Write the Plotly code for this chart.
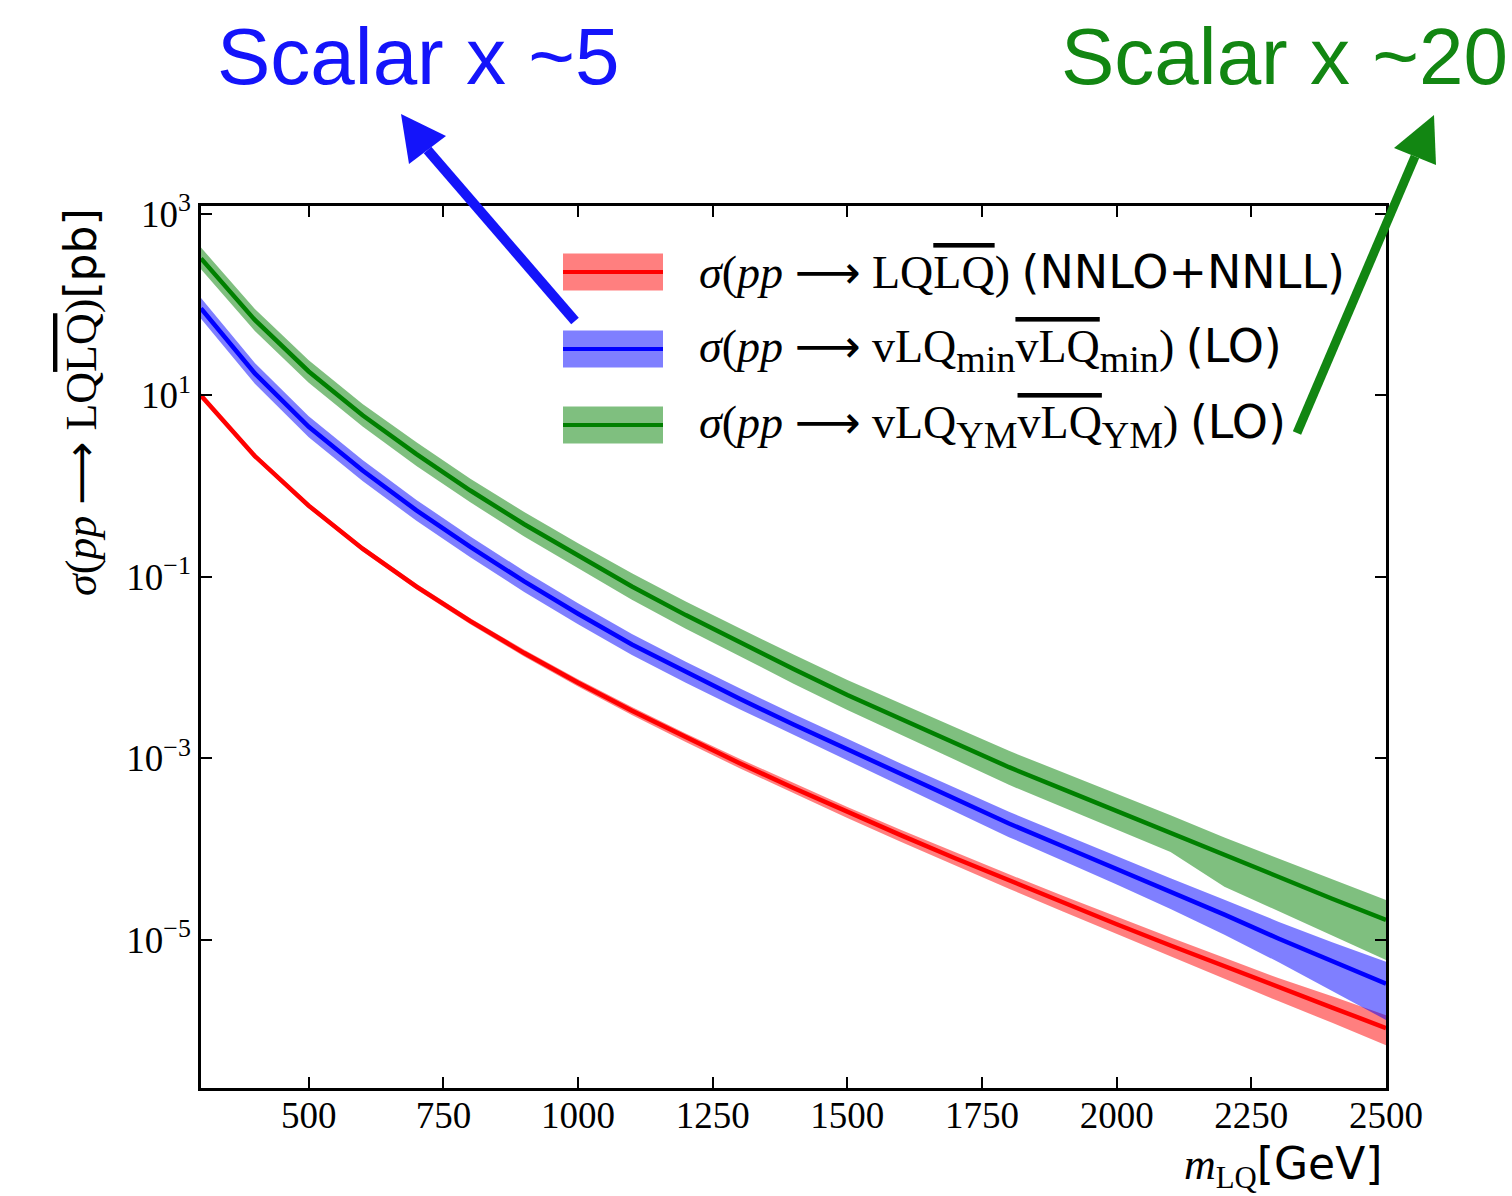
import plotly.graph_objects as go

# Leptoquark pair-production cross sections at the LHC (pb) versus LQ mass (GeV)
mass_gev = [300, 400, 500, 600, 700, 800, 900, 1000, 1100, 1200, 1300, 1400,
            1500, 1600, 1700, 1800, 1900, 2000, 2100, 2200, 2300, 2400, 2500]

# Scalar LQ, NNLO+NNLL: central value and uncertainty band
sigma_scalar = [10.0, 2.15, 0.61, 0.205, 0.0783, 0.0326, 0.0145, 0.00683, 0.00335,
                0.0017, 0.000887, 0.000473, 0.000257, 0.000142, 7.96e-5, 4.51e-5,
                2.58e-5, 1.49e-5, 8.7e-6, 5.1e-6, 3.0e-6, 1.8e-6, 1.07e-6]
sigma_scalar_hi = [10.6, 2.29, 0.650, 0.220, 0.0843, 0.0352, 0.01575, 0.00747, 0.00369,
                   0.001886, 0.000991, 0.000533, 0.000292, 0.000163, 9.24e-5, 5.30e-5,
                   3.07e-5, 1.80e-5, 1.067e-5, 6.36e-6, 3.81e-6, 2.40e-6, 1.48e-6]
sigma_scalar_lo = [9.42, 2.02, 0.573, 0.191, 0.0728, 0.0301, 0.01329, 0.00620, 0.00301,
                   0.001515, 0.000781, 0.000412, 0.000221, 0.0001203, 6.62e-5, 3.68e-5,
                   2.06e-5, 1.165e-5, 6.60e-6, 3.75e-6, 2.12e-6, 1.223e-6, 6.91e-7]

# Vector LQ, minimal coupling, LO
sigma_vmin = [91.2, 17.5, 4.52, 1.49, 0.542, 0.215, 0.0893, 0.0393, 0.0180, 0.00891,
              0.00455, 0.00237, 0.00126, 6.64e-4, 3.56e-4, 1.92e-4, 1.08e-4, 6.07e-5,
              3.39e-5, 1.90e-5, 1.04e-5, 5.82e-6, 3.30e-6]
sigma_vmin_hi = [118.8, 22.8, 5.89, 1.94, 0.706, 0.280, 0.1164, 0.0512, 0.0235, 0.01161,
                 0.00593, 0.00309, 0.001653, 8.75e-4, 4.75e-4, 2.59e-4, 1.474e-4, 8.38e-5,
                 4.79e-5, 2.78e-5, 1.592e-5, 9.44e-6, 5.74e-6]
sigma_vmin_lo = [70.0, 13.43, 3.47, 1.144, 0.416, 0.165, 0.0685, 0.0302, 0.01381, 0.00684,
                 0.00349, 0.00182, 0.000956, 4.98e-4, 2.61e-4, 1.359e-4, 7.47e-5, 4.10e-5,
                 2.19e-5, 1.145e-5, 5.71e-6, 2.72e-6, 1.314e-6]

# Vector LQ, Yang-Mills coupling, LO
sigma_vym = [324, 67.9, 18.4, 6.05, 2.26, 0.897, 0.381, 0.171, 0.0785, 0.0380, 0.0190,
             0.00966, 0.00501, 0.00270, 0.00148, 8.02e-4, 4.59e-4, 2.65e-4, 1.51e-4,
             8.67e-5, 4.98e-5, 2.85e-5, 1.66e-5]
sigma_vym_hi = [427, 89.5, 24.5, 8.07, 3.05, 1.210, 0.520, 0.236, 0.1096, 0.0537, 0.0272,
                0.01396, 0.00732, 0.00399, 0.002214, 0.001214, 7.03e-4, 4.10e-4, 2.37e-4,
                1.343e-4, 7.89e-5, 4.62e-5, 2.76e-5]
sigma_vym_lo = [245.8, 51.5, 13.79, 4.54, 1.675, 0.665, 0.279, 0.1239, 0.0562, 0.0269,
                0.01330, 0.00668, 0.00343, 0.001805, 0.000967, 5.12e-4, 2.90e-4, 1.653e-4,
                9.31e-5, 3.87e-5, 2.08e-5, 1.109e-5, 6.03e-6]

x_ticks = [500, 750, 1000, 1250, 1500, 1750, 2000, 2250, 2500]
y_ticks = [1e3, 1e1, 1e-1, 1e-3, 1e-5]
y_tick_text = ["10<sup>3</sup>", "10<sup>1</sup>", "10<sup>−1</sup>",
               "10<sup>−3</sup>", "10<sup>−5</sup>"]

W, H = 1512, 1196
ML, MR, MT, MB = 201, 126, 206, 108
PW, PH = W - ML - MR, H - MT - MB

SERIF = "Liberation Serif"


def px(x):
    return (x - ML) / PW


def py(y):
    return (H - MB - y) / PH


series = [
    (sigma_scalar_lo, sigma_scalar, sigma_scalar_hi, "#ff0000", "rgba(255,0,0,0.5)"),
    (sigma_vmin_lo, sigma_vmin, sigma_vmin_hi, "#0000ff", "rgba(0,0,255,0.5)"),
    (sigma_vym_lo, sigma_vym, sigma_vym_hi, "#008000", "rgba(0,128,0,0.5)"),
]

fig = go.Figure()
for lo, mid, hi, col, band in series:
    fig.add_trace(go.Scatter(x=mass_gev, y=lo, mode="lines", line=dict(width=0),
                             showlegend=False, hoverinfo="skip"))
    fig.add_trace(go.Scatter(x=mass_gev, y=hi, mode="lines", line=dict(width=0),
                             fill="tonexty", fillcolor=band, showlegend=False,
                             hoverinfo="skip"))
for lo, mid, hi, col, band in series:
    fig.add_trace(go.Scatter(x=mass_gev, y=mid, mode="lines",
                             line=dict(color=col, width=4.5), showlegend=False))

OVL = '<span style="text-decoration:overline">{}</span>'
SANS_SPAN = '<span style="font-family:DejaVu Sans">{}</span>'
SUB = '<sub><span style="font-size:38px">{}</span></sub>'
ARROW = ' <span style="font-family:DejaVu Sans">⟶</span> '
SIGMA_PP = "<i>σ</i>(<i>pp</i>" + ARROW

legend_rows = [
    ("#ff0000", "rgba(255,0,0,0.5)",
     SIGMA_PP + "LQ" + OVL.format("LQ") + ") " + SANS_SPAN.format("(NNLO+NNLL)")),
    ("#0000ff", "rgba(0,0,255,0.5)",
     SIGMA_PP + "vLQ" + SUB.format("min") + OVL.format("vLQ") + SUB.format("min") + ") "
     + SANS_SPAN.format("(LO)")),
    ("#008000", "rgba(0,128,0,0.5)",
     SIGMA_PP + "vLQ" + SUB.format("YM") + OVL.format("vLQ") + SUB.format("YM") + ") "
     + SANS_SPAN.format("(LO)")),
]

shapes = []
annotations = []
row_y = [272, 349, 425]
for (col, band, label), yc in zip(legend_rows, row_y):
    shapes.append(dict(type="rect", xref="paper", yref="paper",
                       x0=px(563), x1=px(663), y0=py(yc - 18.5), y1=py(yc + 18.5),
                       fillcolor=band, line=dict(width=0)))
    shapes.append(dict(type="line", xref="paper", yref="paper",
                       x0=px(563), x1=px(663), y0=py(yc), y1=py(yc),
                       line=dict(color=col, width=4)))
    annotations.append(dict(text=label, xref="paper", yref="paper", x=px(697), y=py(yc),
                             xanchor="left", yanchor="middle", showarrow=False,
                             font=dict(family=SERIF, size=46, color="black")))


def arrow(tail, tip, c1, c2, color, width):
    mid = ((c1[0] + c2[0]) / 2, (c1[1] + c2[1]) / 2)
    shapes.append(dict(type="line", xref="paper", yref="paper",
                       x0=px(tail[0]), y0=py(tail[1]), x1=px(mid[0]), y1=py(mid[1]),
                       line=dict(color=color, width=width)))
    path = "M {} {} L {} {} L {} {} Z".format(px(tip[0]), py(tip[1]), px(c1[0]), py(c1[1]),
                                              px(c2[0]), py(c2[1]))
    shapes.append(dict(type="path", xref="paper", yref="paper", path=path,
                       fillcolor=color, line=dict(width=0)))


BLUE_TXT = "rgb(20,20,250)"
GREEN_TXT = "rgb(18,134,18)"
arrow((575, 321), (401, 114), (446, 136), (409, 164), BLUE_TXT, 10)
arrow((1297, 433), (1434, 115), (1394, 148), (1436, 165), GREEN_TXT, 9)

annotations.append(dict(text="Scalar x ~5", xref="paper", yref="paper", x=px(215), y=py(56),
                        xanchor="left", yanchor="middle", showarrow=False,
                        font=dict(family="Liberation Sans", size=80, color=BLUE_TXT)))
annotations.append(dict(text="Scalar x ~20", xref="paper", yref="paper", x=px(1059), y=py(56),
                        xanchor="left", yanchor="middle", showarrow=False,
                        font=dict(family="Liberation Sans", size=80, color=GREEN_TXT)))

# Axis titles
annotations.append(dict(text=SIGMA_PP + "LQ" + OVL.format("LQ") + ")"
                        + SANS_SPAN.format("[pb]"),
                        xref="paper", yref="paper", x=px(80), y=py(402), textangle=-90,
                        xanchor="center", yanchor="middle", showarrow=False,
                        font=dict(family=SERIF, size=44, color="black")))
annotations.append(dict(text="<i>m</i><sub>LQ</sub>" + SANS_SPAN.format("[GeV]"),
                        xref="paper", yref="paper", x=px(1384), y=py(1166),
                        xanchor="right", yanchor="middle", showarrow=False,
                        font=dict(family=SERIF, size=44, color="black")))

axis_common = dict(showline=True, linewidth=2.5, linecolor="black", mirror="ticks",
                   ticks="inside", ticklen=11, tickwidth=2, tickcolor="black",
                   showgrid=False, zeroline=False,
                   tickfont=dict(family=SERIF, size=37, color="black"))

fig.update_layout(
    width=W, height=H,
    margin=dict(l=ML, r=MR, t=MT, b=MB, pad=0),
    paper_bgcolor="white", plot_bgcolor="white",
    showlegend=False,
    xaxis=dict(range=[300, 2500], tickvals=x_ticks, ticktext=[str(v) for v in x_ticks],
               ticklabelstandoff=-7, **axis_common),
    yaxis=dict(type="log", range=[-6.631, 3.088], tickvals=y_ticks, ticktext=y_tick_text,
               **axis_common),
    shapes=shapes,
    annotations=annotations,
)

fig.write_html("out.html")
